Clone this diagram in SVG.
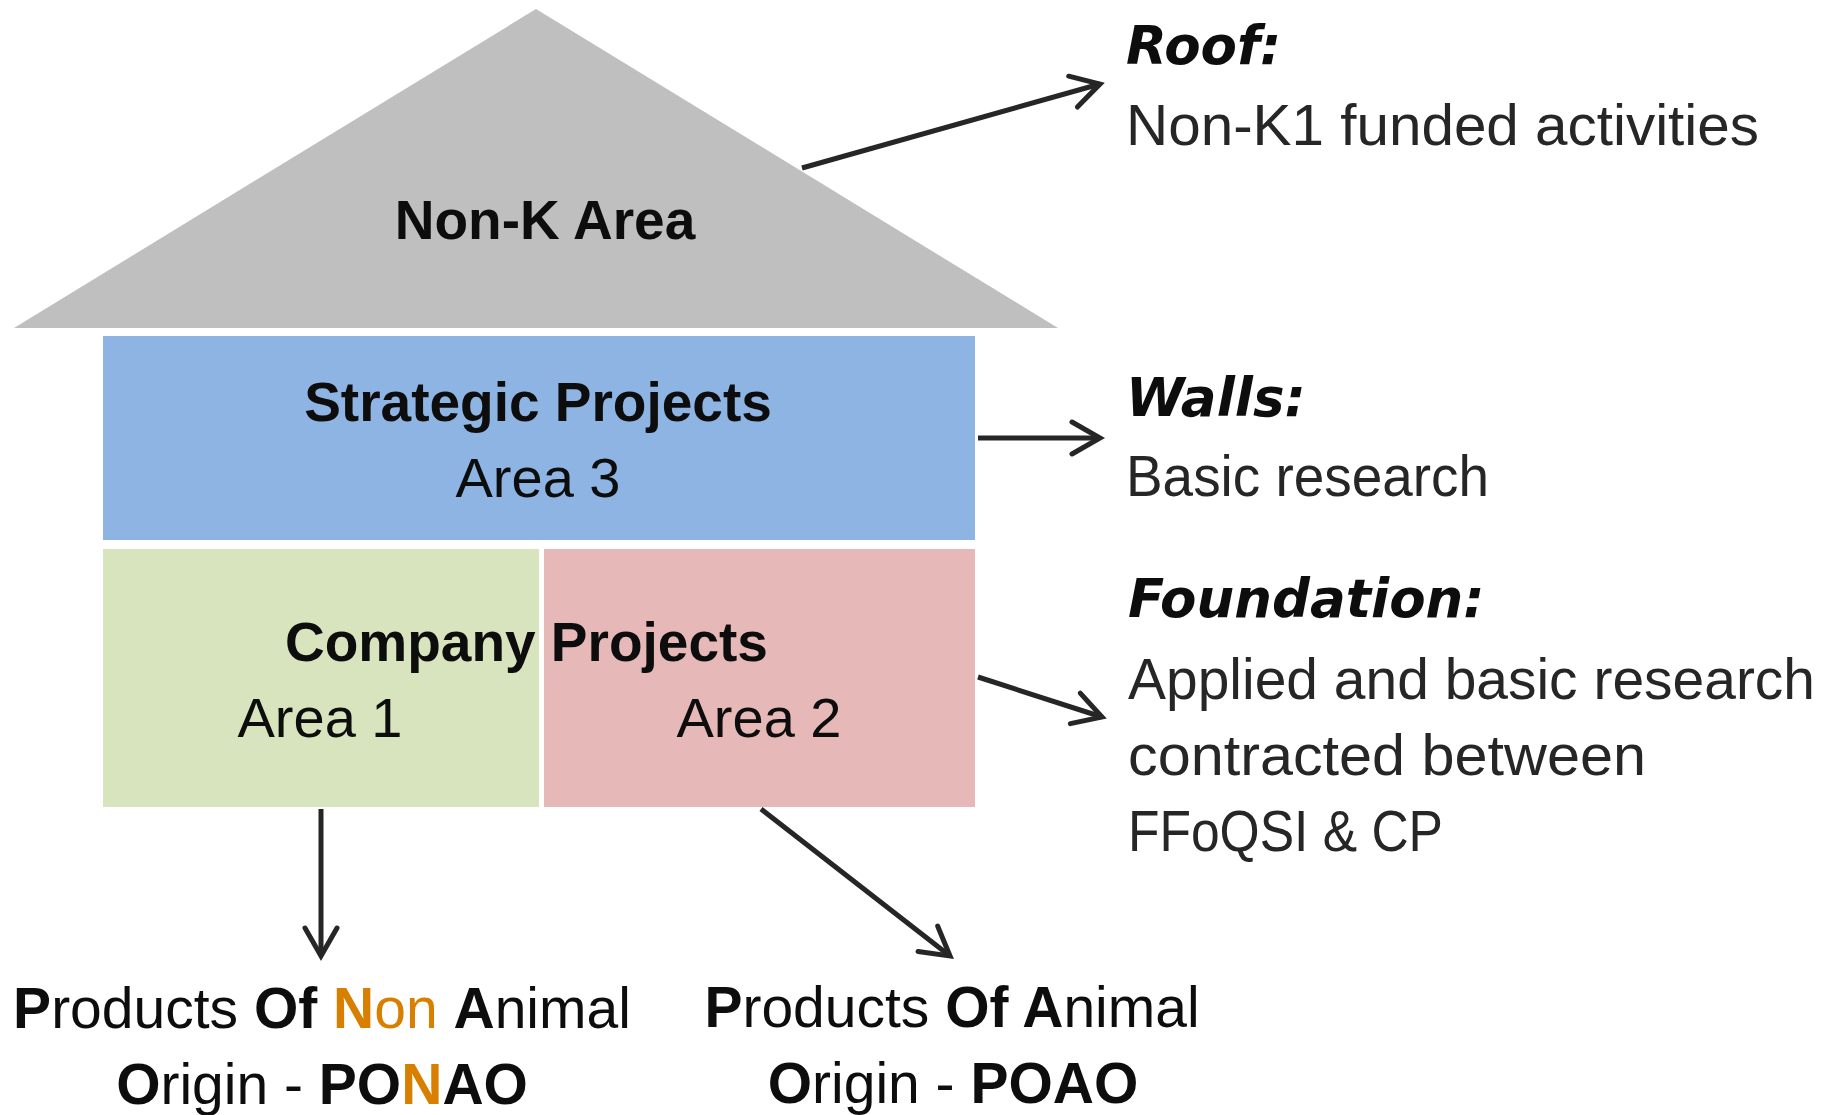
<svg xmlns="http://www.w3.org/2000/svg" width="1836" height="1115" viewBox="0 0 1836 1115">
<style>
.lbl{font-family:"Liberation Sans",Arial,sans-serif;fill:#0d0d0d}
.b{font-weight:bold}
.r{font-weight:normal}
.hd{font-family:"DejaVu Sans",sans-serif;font-weight:bold;font-style:italic;font-size:53px;fill:#0d0d0d}
.body{font-family:"Liberation Sans",Arial,sans-serif;font-size:58px;fill:#262626}
.or{fill:#D97F00}
.conn{stroke:#262626;stroke-width:5;fill:none;marker-end:url(#ah)}
</style>
<defs>
<marker id="ah" markerUnits="userSpaceOnUse" markerWidth="44" markerHeight="44" viewBox="0 0 44 44" refX="38" refY="22" orient="auto">
<path d="M10,6 L38,22 L10,38" fill="none" stroke="#262626" stroke-width="5" stroke-linecap="round" stroke-linejoin="miter"/>
</marker>
</defs>
<rect width="1836" height="1115" fill="#ffffff"/>
<g id="roof">
<polygon points="536,9 1058,328 14,328" fill="#BFBFBF"/>
<text class="lbl b" x="545" y="239" font-size="55" text-anchor="middle">Non-K Area</text>
</g>
<g id="strategic">
<rect x="103" y="336" width="872" height="204" fill="#8EB4E3"/>
<text class="lbl b" x="538" y="421" font-size="55" text-anchor="middle">Strategic Projects</text>
<text class="lbl r" x="538" y="497" font-size="56" text-anchor="middle">Area 3</text>
</g>
<g id="area1">
<rect x="103" y="549" width="436" height="258" fill="#D7E4BD"/>
<text class="lbl r" x="320" y="737" font-size="56" text-anchor="middle">Area 1</text>
</g>
<g id="area2">
<rect x="544" y="549" width="431" height="258" fill="#E6B9B8"/>
<text class="lbl r" x="759" y="737" font-size="56" text-anchor="middle">Area 2</text>
</g>
<g id="company-projects-label">
<text class="lbl b" x="285" y="661" font-size="55">Company Projects</text>
</g>
<g id="roof-note">
<text class="hd" x="1126" y="64">Roof:</text>
<text class="body" x="1126" y="145" textLength="633" lengthAdjust="spacingAndGlyphs">Non-K1 funded activities</text>
</g>
<g id="walls-note">
<text class="hd" x="1126" y="416">Walls:</text>
<text class="body" x="1126" y="496" textLength="363" lengthAdjust="spacingAndGlyphs">Basic research</text>
</g>
<g id="foundation-note">
<text class="hd" x="1128" y="617">Foundation:</text>
<text class="body" x="1128" y="699" textLength="687" lengthAdjust="spacingAndGlyphs">Applied and basic research</text>
<text class="body" x="1128" y="775" textLength="518" lengthAdjust="spacingAndGlyphs">contracted between</text>
<text class="body" x="1128" y="851" textLength="315" lengthAdjust="spacingAndGlyphs">FFoQSI &amp; CP</text>
</g>
<g id="ponao">
<text class="lbl" x="322" y="1028" font-size="57" text-anchor="middle"><tspan class="b">P</tspan><tspan class="r">roducts </tspan><tspan class="b">Of </tspan><tspan class="b or">N</tspan><tspan class="r or">on</tspan><tspan class="r"> </tspan><tspan class="b">A</tspan><tspan class="r">nimal</tspan></text>
<text class="lbl" x="322" y="1104" font-size="57" text-anchor="middle"><tspan class="b">O</tspan><tspan class="r">rigin - </tspan><tspan class="b">PO</tspan><tspan class="b or">N</tspan><tspan class="b">AO</tspan></text>
</g>
<g id="poao">
<text class="lbl" x="952" y="1027" font-size="57" text-anchor="middle"><tspan class="b">P</tspan><tspan class="r">roducts </tspan><tspan class="b">Of A</tspan><tspan class="r">nimal</tspan></text>
<text class="lbl" x="953" y="1103" font-size="57" text-anchor="middle"><tspan class="b">O</tspan><tspan class="r">rigin - </tspan><tspan class="b">POAO</tspan></text>
</g>
<g id="connectors">
<line class="conn" x1="802" y1="168" x2="1100" y2="84"/>
<line class="conn" x1="978" y1="438" x2="1100" y2="438"/>
<line class="conn" x1="978" y1="677" x2="1102" y2="717"/>
<line class="conn" x1="321" y1="809" x2="321" y2="956"/>
<line class="conn" x1="761" y1="809" x2="950" y2="956"/>
</g>
</svg>
